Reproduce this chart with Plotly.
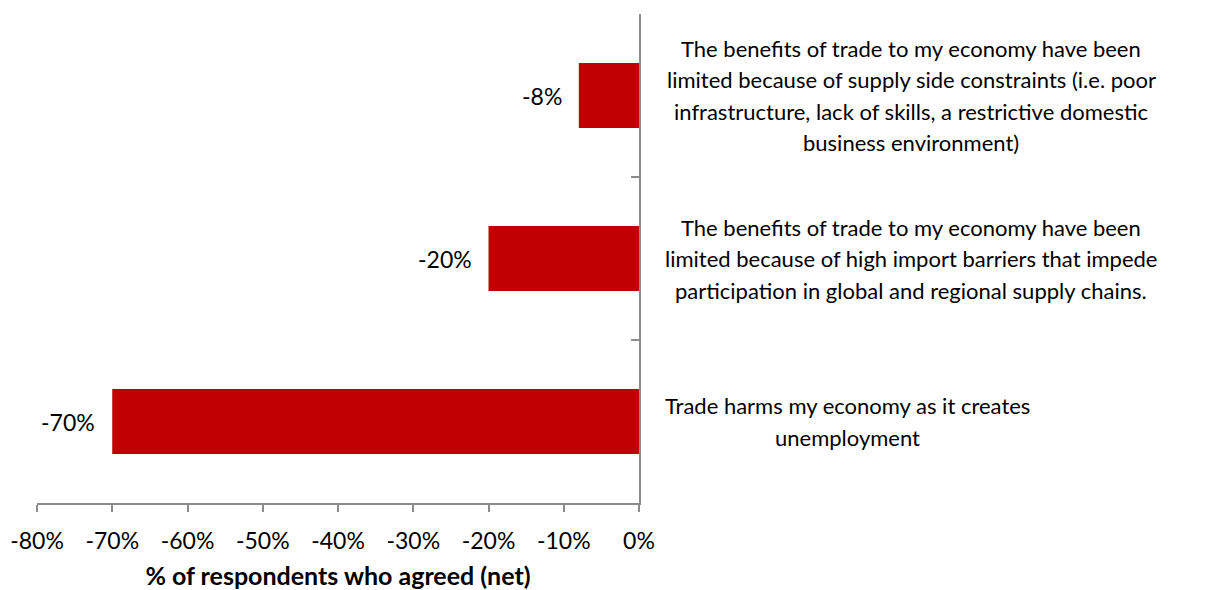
import plotly.graph_objects as go

# Survey statements, top to bottom, and the net share of respondents who agreed
statements = [
    "Supply side constraints",
    "High import barriers",
    "Trade creates unemployment",
]
statement_lines = [
    ["The benefits of trade to my economy have been",
     "limited because of supply side constraints (i.e. poor",
     "infrastructure, lack of skills, a restrictive domestic",
     "business environment)"],
    ["The benefits of trade to my economy have been",
     "limited because of high import barriers that impede",
     "participation in global and regional supply chains."],
    ["Trade harms my economy as it creates",
     "unemployment"],
]
net_agree = [-8, -20, -70]
x_ticks = [-80, -70, -60, -50, -40, -30, -20, -10, 0]

FONT = "Lato"
AXIS_GREY = "#8c8c8c"

fig = go.Figure(
    go.Bar(
        x=net_agree,
        y=statements,
        orientation="h",
        width=0.4,
        marker=dict(color="#C00000", line=dict(width=0)),
        hoverinfo="skip",
    )
)

annotations = []
# value labels just left of each bar's end
for val, cat in zip(net_agree, statements):
    annotations.append(dict(
        x=val, y=cat, xref="x", yref="y",
        text=f"{val:.0f}%", showarrow=False,
        xanchor="right", yanchor="middle", xshift=-15,
        font=dict(family=FONT, size=23, color="black"),
    ))

# statement text to the right of the axis, centred line by line
label_centres = [1.452, 1.452, 1.347]
line_gap = 31.5
for cat, lines, cx in zip(statements, statement_lines, label_centres):
    n = len(lines)
    for i, line in enumerate(lines):
        annotations.append(dict(
            x=cx, y=cat, xref="paper", yref="y",
            text=line, showarrow=False,
            xanchor="center", yanchor="middle",
            yshift=((n - 1) / 2 - i) * line_gap,
            font=dict(family=FONT, size=22, color="black"),
        ))

fig.update_layout(
    width=1225, height=590,
    margin=dict(l=37, r=586, t=14, b=87, autoexpand=False),
    paper_bgcolor="white", plot_bgcolor="white",
    showlegend=False,
    font=dict(family=FONT, size=22, color="black"),
    annotations=annotations,
    xaxis=dict(
        range=[-80, 0],
        tickvals=x_ticks,
        ticktext=[f"{t}%" for t in x_ticks],
        automargin=False,
        showgrid=False, zeroline=False,
        showline=True, linecolor=AXIS_GREY, linewidth=1.5,
        ticks="outside", ticklen=7, tickcolor=AXIS_GREY, tickwidth=1.5,
        ticklabelstandoff=10,
        tickfont=dict(family=FONT, size=23, color="black"),
        title=dict(
            text="<b>% of respondents who agreed (net)</b>",
            font=dict(family=FONT, size=25, color="black"),
            standoff=18,
        ),
    ),
    yaxis=dict(
        type="category",
        autorange="reversed",
        side="right",
        automargin=False,
        showticklabels=False,
        showgrid=False, zeroline=False,
        showline=True, linecolor=AXIS_GREY, linewidth=1.5,
        ticks="inside", ticklen=8, tickcolor=AXIS_GREY, tickwidth=1.5,
        tickson="boundaries",
    ),
)

fig.write_html("out.html")
